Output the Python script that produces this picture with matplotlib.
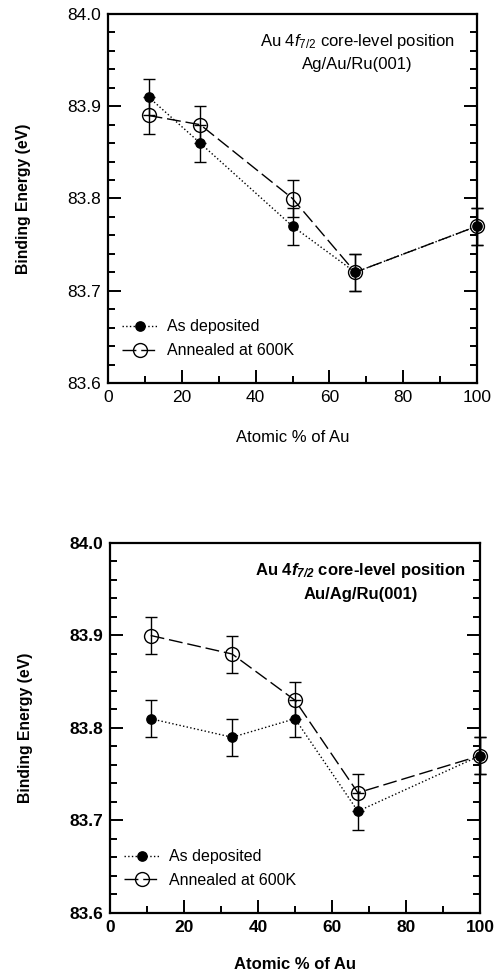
import numpy as np
import matplotlib
matplotlib.use('Agg')
import matplotlib.pyplot as plt
from matplotlib.ticker import MultipleLocator, FormatStrFormatter
from matplotlib.lines import Line2D

plt.rcParams['font.family'] = ['Liberation Sans', 'DejaVu Sans']
plt.rcParams['mathtext.fontset'] = 'custom'
plt.rcParams['mathtext.rm'] = 'Liberation Sans'
plt.rcParams['mathtext.it'] = 'Liberation Sans:italic'
plt.rcParams['mathtext.bf'] = 'Liberation Sans:bold:italic'

# top panel: Ag/Au/Ru(001)
x_top = [11, 25, 50, 67, 100]
dep_top = [83.91, 83.86, 83.77, 83.72, 83.77]
ann_top = [83.89, 83.88, 83.80, 83.72, 83.77]

# bottom panel: Au/Ag/Ru(001)
x_bot = [11, 33, 50, 67, 100]
dep_bot = [83.81, 83.79, 83.81, 83.71, 83.77]
ann_bot = [83.90, 83.88, 83.83, 83.73, 83.77]

err = 0.02
systems = ['Ag/Au/Ru(001)', 'Au/Ag/Ru(001)']

fig = plt.figure(figsize=(4.95, 9.73), dpi=100)
W, H = 495, 973
boxes = [(108, 14, 477, 383), (110, 543, 480, 913)]
panels = [(x_top, dep_top, ann_top), (x_bot, dep_bot, ann_bot)]
dash = (0, (10, 3.5))


def unclip(container):
    for art in container.lines[:1] + tuple(container.lines[1]) + tuple(container.lines[2]):
        if art is not None:
            art.set_clip_on(False)


for i, ((l, t, r, b), (xs, dep, ann)) in enumerate(zip(boxes, panels)):
    ax = fig.add_axes([l / W, (H - b) / H, (r - l) / W, (b - t) / H])
    weight = 'normal' if i == 0 else 'bold'

    c1 = ax.errorbar(xs, dep, yerr=err, fmt='o', ls=':', color='black',
                     ms=6.7, lw=1.0, capsize=4, elinewidth=1.0, capthick=1.0,
                     zorder=3)
    c2 = ax.errorbar(xs, ann, yerr=err, fmt='o', ls=dash, color='black',
                     mfc='none', mec='black', mew=1.0, ms=10, lw=1.0,
                     capsize=4, elinewidth=1.0, capthick=1.0, zorder=4)
    unclip(c1)
    unclip(c2)

    ax.set_xlim(0, 100)
    ax.set_ylim(83.6, 84.0)
    ax.xaxis.set_major_locator(MultipleLocator(20))
    ax.xaxis.set_minor_locator(MultipleLocator(10))
    ax.yaxis.set_major_locator(MultipleLocator(0.1))
    ax.yaxis.set_minor_locator(MultipleLocator(0.02))
    ax.yaxis.set_major_formatter(FormatStrFormatter('%.1f'))
    ax.tick_params(which='both', direction='in', right=True, top=False,
                   labelsize=12.5, width=1.4)
    ax.tick_params(which='major', length=9.5, pad=5)
    ax.tick_params(which='minor', length=5)
    for lab in ax.get_xticklabels() + ax.get_yticklabels():
        lab.set_fontweight(weight)
    for s in ax.spines.values():
        s.set_linewidth(1.6)

    ax.set_xlabel('Atomic % of Au', fontsize=12, fontweight=weight)
    ax.set_ylabel('Binding Energy (eV)', fontsize=11.3, fontweight='bold')
    ax.xaxis.set_label_coords(0.5, -0.128 if i == 0 else -0.118)
    ax.yaxis.set_label_coords(-0.208, 0.5)

    cx = 0.675 if i == 0 else 0.678
    ax.text(cx, 0.925, r'Au 4$f_{7/2}$ core-level position' if i == 0
            else r'Au 4$\mathbf{f_{7/2}}$ core-level position',
            transform=ax.transAxes, ha='center', va='center',
            fontsize=12, fontweight=weight)
    ax.text(cx, 0.862, systems[i], transform=ax.transAxes,
            ha='center', va='center', fontsize=12, fontweight=weight)

    handles = [
        Line2D([], [], ls=':', color='black', lw=1.0, marker='o', ms=6.7),
        Line2D([], [], ls=dash, color='black', lw=1.0, marker='o', ms=10,
               mfc='none', mew=1.0),
    ]
    ax.legend(handles, ['As deposited', 'Annealed at 600K'],
              loc='center left', bbox_to_anchor=(0.0, 0.12), frameon=False,
              prop={'size': 11.5}, handlelength=2.2, handletextpad=0.6,
              labelspacing=0.55, borderaxespad=0.6, borderpad=0.3)

fig.savefig('out.png', dpi=100)
